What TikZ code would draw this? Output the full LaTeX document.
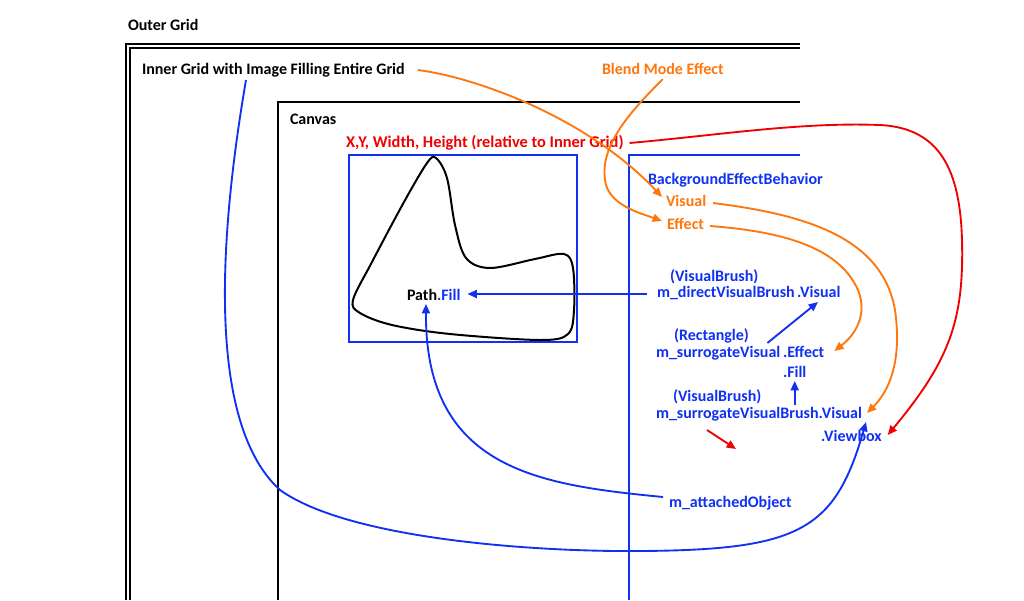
\documentclass[tikz,border=0pt]{standalone}
\usepackage{fontspec}
\setmainfont{Carlito}
\usetikzlibrary{arrows.meta,calc}
\definecolor{lblue}{RGB}{16,48,242}
\definecolor{lorange}{RGB}{255,118,12}
\definecolor{lred}{RGB}{240,0,0}
\tikzset{
  frame/.style={line width=1.5pt,black},
  bframe/.style={line width=1.5pt,lblue},
  lbl/.style={inner sep=0pt,outer sep=0pt,anchor=base west,font=\bfseries\fontsize{12}{14}\selectfont},
  tip/.style={-{Triangle[length=7pt,width=6pt]}},
  oline/.style={tip,line width=1.4pt,lorange},
  rline/.style={tip,line width=1.4pt,lred},
  bline/.style={tip,line width=1.4pt,lblue},
}
\begin{document}
\begin{tikzpicture}[x=0.75pt,y=-0.75pt]
\useasboundingbox (0,0) rectangle (1024,600);

% grids, canvas and the two blue boxes
\draw[frame] (800,44) -- (126,44) -- (126,600);
\draw[frame] (800,48) -- (130,48) -- (130,600);
\draw[frame] (800,102) -- (278,102) -- (278,600);
\draw[bframe] (349,155) rectangle (577,342);
\draw[bframe] (800,155) -- (629,155) -- (629,600);

% the free-form path shape
\draw[line width=1.5pt,black] plot[smooth cycle,tension=0.55] coordinates {
  (436,158) (447,178) (455,225) (466,258) (490,268) (535,259) (564,254)
  (573,268) (574,310) (568,334) (540,340) (450,334) (392,325) (360,313)
  (353,300) (372,262) (404,202) (427,163)};

% labels
\node[lbl] (outer) at (128,30) {Outer Grid};
\node[lbl] (inner) at (142,74) {Inner Grid with Image Filling Entire Grid};
\node[lbl] (canvas) at (290,124) {Canvas};
\node[lbl,text=lred,font=\bfseries\fontsize{12.3}{14}\selectfont] (xywh) at (346,147) {X,Y, Width, Height (relative to Inner Grid)};
\node[lbl,text=lorange] (blend) at (602,74) {Blend Mode Effect};
\node[lbl,text=lblue] (beb) at (648,184) {BackgroundEffectBehavior};
\node[lbl,text=lorange] (visual) at (666,206) {Visual};
\node[lbl,text=lorange] (effect) at (667,229) {Effect};
\node[lbl,text=lblue] (vbt1) at (670,281) {(VisualBrush)};
\node[lbl,text=lblue] (dvb) at (657,297) {m\_directVisualBrush};
\node[lbl,text=lblue] (dvbvis) at (797,297) {.Visual};
\node[lbl] (pathfill) at (407,300) {Path\textcolor{lblue}{.Fill}};
\node[lbl,text=lblue] (rectt) at (674,340) {(Rectangle)};
\node[lbl,text=lblue] (sv) at (656,357) {m\_surrogateVisual};
\node[lbl,text=lblue] (sveff) at (783,357) {.Effect};
\node[lbl,text=lblue] (svfill) at (783,377) {.Fill};
\node[lbl,text=lblue] (vbt2) at (673,401) {(VisualBrush)};
\node[lbl,text=lblue] (svb) at (656,418) {m\_surrogateVisualBrush.Visual};
\node[lbl,text=lblue] (viewbox) at (821,441) {.Viewbox};
\node[lbl,text=lblue] (attached) at (669,507) {m\_attachedObject};

% orange connectors
\draw[oline] ($(inner.base east)+(13,-4)$) .. controls (480,78) and (590,120) .. ($(visual.base west)+(-4,-9)$);
\draw[oline] ($(blend.south)+(0,5)$) .. controls (630,112) and (600,145) .. (605,180)
  .. controls (608,205) and (640,213) .. ($(effect.base west)+(-5,-8)$);
\draw[oline] ($(visual.base east)+(7,-3)$) .. controls (800,214) and (882,235) .. (895,310)
  .. controls (902,360) and (890,390) .. ($(svb.base east)+(5,-5)$);
\draw[oline] ($(effect.base east)+(6,-3)$) .. controls (790,232) and (840,250) .. (858,290)
  .. controls (868,315) and (855,335) .. ($(sveff.base east)+(10,-6)$);

% red connectors
\draw[rline] ($(xywh.base east)+(6,-4)$) .. controls (720,135) and (800,122) .. (880,125)
  .. controls (940,128) and (960,170) .. (962,240)
  .. controls (964,320) and (950,360) .. ($(viewbox.base east)+(6,-6)$);
\coordinate (r1) at (707,430);
\coordinate (r2) at (736,449);
\draw[rline] (r1) -- (r2);

% blue connectors
\draw[bline] ($(dvb.base west)+(-10,-3)$) -- ($(pathfill.base east)+(7,-6)$);
\draw[bline] ($(sv.base east)+(-13,-14)$) -- ($(dvbvis.base west)+(21,5)$);
\draw[bline] ($(svfill.base)+(0,28)$) -- ($(svfill.base)+(0,4)$);
\draw[bline] ($(attached.base west)+(-6,-10)$) .. controls (540,485) and (425,470) .. ($(pathfill.base west)+(19,4)$);
\draw[bline] ($(inner.base west)+(104,6)$) .. controls (222,220) and (203,420) .. (280,490)
  .. controls (350,540) and (540,552) .. (640,551)
  .. controls (800,550) and (835,530) .. ($(viewbox.base west)+(45,-19)$);
\end{tikzpicture}
\end{document}
